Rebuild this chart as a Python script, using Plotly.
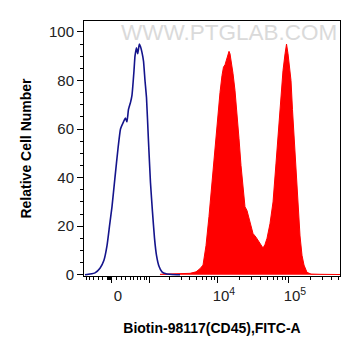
import numpy as np
import plotly.graph_objects as go

# ---- data (x on the biexponential display scale, in decades; y = relative cell number) ----
blue_pos = [-0.380, -0.310, -0.239, -0.169, -0.113, -0.070, -0.035, 0.000, 0.042, 0.085,
            0.120, 0.162, 0.190, 0.211, 0.232, 0.261, 0.282, 0.310, 0.324, 0.345,
            0.362, 0.385, 0.401, 0.423, 0.444, 0.465, 0.486, 0.514, 0.542, 0.570,
            0.599, 0.627, 0.662, 0.704, 0.761, 0.845, 0.958]
blue_count = [0, 0.3, 0.8, 2.7, 6, 12, 20, 28, 40, 52,
              60, 63, 64.5, 63, 68, 71, 74, 84, 90, 93.5,
              91, 95, 94, 91.5, 88, 80, 73, 55, 38, 26,
              15, 8, 3.5, 1.2, 0.4, 0.1, 0]

red_pos = [0.676, 0.887, 1.099, 1.183, 1.239, 1.282, 1.324, 1.366, 1.408, 1.451,
           1.493, 1.521, 1.549, 1.570, 1.592, 1.620, 1.648, 1.662, 1.683, 1.704,
           1.732, 1.761, 1.789, 1.817, 1.845, 1.873, 1.901, 1.930, 1.958, 1.986,
           2.028, 2.070, 2.099, 2.127, 2.155, 2.183, 2.225, 2.268, 2.310, 2.352,
           2.380, 2.408, 2.437, 2.458, 2.479, 2.500, 2.521, 2.542, 2.563, 2.592,
           2.620, 2.648, 2.676, 2.704, 2.746, 2.803, 2.930, 3.211]
red_count = [0.2, 0.4, 0.6, 1.2, 2.5, 4, 12, 24, 38, 54,
             68, 75, 82, 85.5, 86.5, 89, 92, 91, 87.5, 83,
             76, 67, 56, 45, 36, 28, 26.5, 23, 19.5, 17,
             15.5, 13.5, 12.5, 11, 12.5, 15, 21, 30, 46, 63,
             72, 84, 91, 95, 91, 86, 80, 68, 57, 40,
             26, 16, 8, 4, 1, 0.3, 0.2, 0.1]

y_ticks = [0, 20, 40, 60, 80, 100]
x_major_values = [0, 1e3, 1e4, 1e5]
x_major_labels = ["0", " ", "10<sup>4</sup>", "10<sup>5</sup>"]
x_minor_values = ([-600, -500, -400, -300, -200, -100]
                  + list(range(-90, 0, 10))
                  + list(range(100, 1000, 100))
                  + [k * 1e3 for k in range(2, 10)]
                  + [k * 1e4 for k in range(2, 10)]
                  + [k * 1e5 for k in range(2, 6)])

x_title = "Biotin-98117(CD45),FITC-A"
y_title = "Relative Cell Number"
watermark = "WWW.PTGLAB.COM"

# ---- biexponential (arcsinh) display transform ----
COFACTOR = 645.0


def biex(v):
    return np.arcsinh(np.asarray(v, dtype=float) / COFACTOR) / np.log(10)


FONT = "Arial, Liberation Sans, sans-serif"

fig = go.Figure()
fig.add_trace(go.Scatter(
    x=red_pos, y=red_count, mode="lines", fill="tozeroy",
    line=dict(color="#ff0000", width=1), fillcolor="#ff0000",
    hoverinfo="skip", showlegend=False))
fig.add_trace(go.Scatter(
    x=blue_pos, y=blue_count, mode="lines",
    line=dict(color="#14148c", width=1.6, shape="spline", smoothing=0.4),
    hoverinfo="skip", showlegend=False))

fig.add_annotation(
    text=watermark, xref="paper", yref="paper", x=0.565, y=0.955,
    xanchor="center", yanchor="middle", showarrow=False,
    font=dict(family=FONT, size=22.5, color="#dadada"))

# the page body keeps its default 8px margin, so the figure is 8px smaller
fig.update_layout(
    width=353, height=348,
    margin=dict(l=76, r=21, t=13, b=80),
    paper_bgcolor="white", plot_bgcolor="white",
    font=dict(family=FONT, size=15, color="#222222"),
    xaxis=dict(
        range=[-0.394, 3.211],
        tickmode="array", tickvals=biex(x_major_values).tolist(), ticktext=x_major_labels,
        ticks="outside", ticklen=6, tickwidth=1, tickcolor="black",
        ticklabelshift=6,
        minor=dict(tickmode="array", tickvals=biex(x_minor_values).tolist(),
                   ticks="outside", ticklen=3, tickwidth=1, tickcolor="black"),
        showline=True, linecolor="black", linewidth=1, mirror=True,
        showgrid=False, zeroline=False,
        title=dict(text="<b>" + x_title + "</b>", font=dict(family=FONT, size=14, color="black"),
                   standoff=20),
    ),
    yaxis=dict(
        range=[-0.5, 104.5],
        tickmode="array", tickvals=y_ticks,
        ticks="outside", ticklen=6, tickwidth=1, tickcolor="black",
        minor=dict(dtick=5, ticks="outside", ticklen=3, tickwidth=1, tickcolor="black"),
        showline=True, linecolor="black", linewidth=1, mirror=True,
        showgrid=False, zeroline=False,
        title=dict(text="<b>" + y_title + "</b>", font=dict(family=FONT, size=14, color="black"),
                   standoff=14),
    ),
)

fig.write_html("out.html")
